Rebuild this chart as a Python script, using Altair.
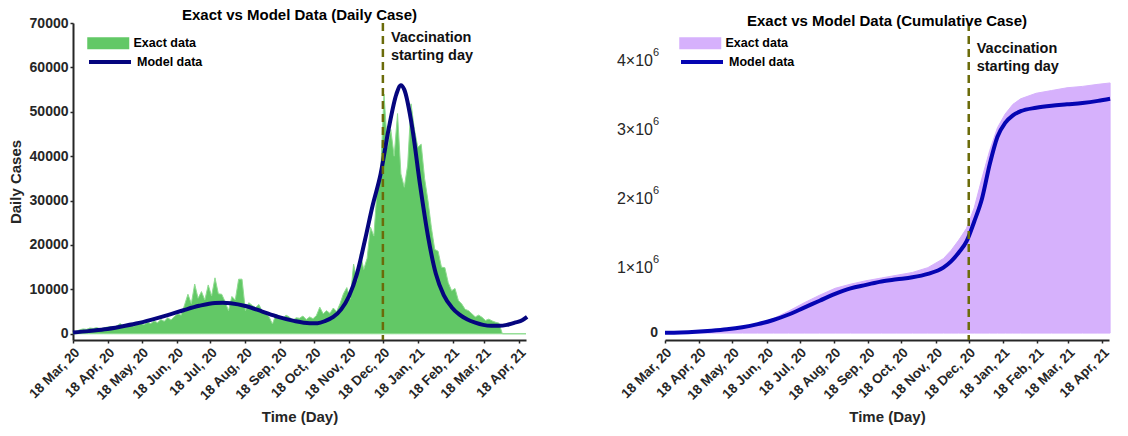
import altair as alt
import pandas as pd

FONT = "Liberation Sans"
START = pd.Timestamp("2020-03-18")

tick_dates = ["2020-03-18", "2020-04-18", "2020-05-18", "2020-06-18", "2020-07-18",
              "2020-08-18", "2020-09-18", "2020-10-18", "2020-11-18", "2020-12-18",
              "2021-01-18", "2021-02-18", "2021-03-18", "2021-04-18"]
x_domain = ["2020-03-18", "2021-04-24"]
vacc_date = ["2020-12-18"]
legend_exact = ["Exact data"]
legend_model = ["Model data"]
vacc_label = ["Vaccination\nstarting day"]

# right panel y tick labels (mantissa x 10^6)
cum_tick_values = [1000000, 2000000, 3000000, 4000000]
cum_tick_mantissa = ["1×10", "2×10", "3×10", "4×10"]
cum_tick_exponent = ["6", "6", "6", "6"]
cum_zero_label = ["0"]

# Daily exact data (every 3 days from 18 Mar 2020)
daily_exact_days = list(range(0, 382, 3)) + [402]
daily_exact_vals = [
    300, 600, 900, 1100, 1000, 1300, 1200, 1400, 1100, 1300, 1500,
    1600, 1400, 1800, 2300, 1500, 1900, 2200, 1700, 2100, 2400,
    2000, 2600, 2300, 2900, 2500, 3200, 2800, 3600, 3100, 3900,
    4500, 4200, 6500, 8900, 6800, 11200, 8000, 9500, 7600, 11000,
    8500, 12600, 9000, 8900, 7200, 5200, 8400, 7600, 12300, 12300,
    5200, 7000, 6400, 5900, 6600, 5000, 4500, 3800, 2200, 4300,
    4000, 3300, 4200, 3800, 3000, 3600, 3500, 4000, 3200, 3800,
    3400, 4100, 6000, 4500, 5200, 4600, 5800, 5000, 6800, 9000,
    10400, 7800, 15700, 12000, 18000, 14500, 17000, 24000, 22000, 33000,
    36000, 54000, 42000, 46000, 40000, 49600, 36000, 33000, 38000, 51800,
    46000, 42000, 42700, 35000, 30000, 24000, 19000, 18600, 15000, 14900,
    11500, 9700, 10200, 7500, 6700, 5500, 5200, 4500, 3800, 4200,
    3700, 3000, 3300, 2900, 2600, 2400, 0,
    0,
]

# Daily model curve
daily_model_days = [0, 14, 28, 42, 56, 70, 84, 98, 112, 126, 133, 140, 154, 168, 182, 196,
                    210, 217, 224, 231, 238, 245, 252, 259, 266, 273, 280, 287, 291, 294,
                    301, 308, 315, 322, 329, 336, 343, 350, 357, 364, 371, 378, 385, 392,
                    399, 403]
daily_model_vals = [300, 600, 1000, 1600, 2300, 3200, 4200, 5300, 6300, 6950, 7000, 6900,
                    6200, 5000, 3800, 2900, 2400, 2400, 2900, 3800, 5500, 8500, 13500, 21000,
                    29000, 36000, 46000, 54000, 56000, 55000, 46500, 33500, 22000, 13500,
                    8700, 6000, 4300, 3200, 2500, 2000, 1800, 1800, 2000, 2500, 3100, 3800]

# Cumulative exact and model
cum_days = [0, 14, 28, 42, 56, 70, 84, 98, 112, 126, 140, 154, 168, 182, 196, 210, 224,
            238, 252, 259, 266, 273, 280, 287, 294, 301, 308, 315, 322, 336, 350, 364,
            378, 392, 403]
cum_exact_vals = [5000, 15000, 28000, 40000, 55000, 80000, 130000, 210000, 320000, 440000,
                  550000, 650000, 710000, 760000, 800000, 840000, 880000, 950000, 1080000,
                  1200000, 1350000, 1520000, 1820000, 2250000, 2650000, 2980000, 3180000,
                  3320000, 3400000, 3480000, 3520000, 3560000, 3580000, 3610000, 3630000]
cum_model_vals = [5000, 10000, 20000, 35000, 55000, 85000, 130000, 190000, 270000, 370000,
                  470000, 570000, 650000, 700000, 750000, 780000, 810000, 860000, 950000,
                  1040000, 1170000, 1330000, 1620000, 1950000, 2450000, 2850000, 3050000,
                  3160000, 3220000, 3270000, 3300000, 3320000, 3340000, 3370000, 3400000]


def to_dt(s):
    t = pd.Timestamp(s)
    return alt.DateTime(year=t.year, month=t.month, date=t.day)


def frame(days, vals, name, key):
    return pd.DataFrame({
        "date": START + pd.to_timedelta(days, unit="D"),
        "value": vals,
        key: name,
    })


GREEN = "#62c866"
GREEN_EDGE = "#8fdc90"
NAVY = "#05057e"
PURPLE = "#d6b1fc"
BLUE = "#0505b2"
OLIVE = "#6b6b0a"
DARK = "#262626"
RECT = "M-3.5,-1L3.5,-1L3.5,1L-3.5,1Z"
LINE = "M-3.5,0L3.5,0"

x_enc = alt.X(
    "date:T",
    scale=alt.Scale(domain=[to_dt(x_domain[0]), to_dt(x_domain[1])], nice=False),
    axis=alt.Axis(values=[to_dt(d) for d in tick_dates], format="%d %b, %y",
                  labelAngle=-45, labelAlign="right", labelBaseline="bottom",
                  labelOverlap=False, labelOffset=9, labelPadding=12, labelBound=False,
                  labelFontSize=13.5, title="Time (Day)", titlePadding=7),
)


def panel(exact_df, model_df, fill_col, line_col, y_domain, y_values, y_title,
          cumulative, text_y, title, width):
    if cumulative:
        y_axis = alt.Axis(values=y_values, title=y_title, labels=False, titlePadding=59)
    else:
        y_axis = alt.Axis(values=y_values, title=y_title, format="d", titlePadding=6)
    y_scale = alt.Scale(domain=y_domain, nice=False)
    y_enc = alt.Y("value:Q", scale=y_scale, axis=y_axis)

    leg_common = dict(title=None, orient="none", padding=0, labelFont=FONT,
                      labelFontSize=12.5, labelFontWeight="bold", labelColor="#000",
                      labelOffset=19, symbolSize=144, legendX=29)
    area = alt.Chart(exact_df).mark_area(
        interpolate="linear", opacity=1,
        stroke=fill_col if cumulative else GREEN_EDGE, strokeWidth=1,
    ).encode(
        x=x_enc, y=y_enc,
        fill=alt.Fill("ex:N", scale=alt.Scale(domain=legend_exact, range=[fill_col]),
                      legend=alt.Legend(symbolType=RECT, symbolStrokeWidth=0,
                                        symbolOpacity=1, legendY=14, **leg_common)),
    )
    line = alt.Chart(model_df).mark_line(
        interpolate="monotone", strokeWidth=4,
    ).encode(
        x=x_enc, y=y_enc,
        stroke=alt.Stroke("mo:N", scale=alt.Scale(domain=legend_model, range=[line_col]),
                          legend=alt.Legend(symbolType=LINE, symbolStrokeWidth=4,
                                            legendY=31, **leg_common)),
    )
    vdf = pd.DataFrame({"date": pd.to_datetime(vacc_date), "value": [text_y],
                        "label": vacc_label})
    rule = alt.Chart(vdf).mark_rule(
        strokeDash=[8, 5], strokeWidth=2.5, color=OLIVE
    ).encode(x=x_enc)
    text = alt.Chart(vdf).mark_text(
        align="left", baseline="top", dx=8, font=FONT, fontSize=14.5,
        fontWeight="bold", lineBreak="\n", lineHeight=18, color="#111"
    ).encode(x=x_enc, y=y_enc, text="label:N")
    layers = [area, line, rule, text]
    if cumulative:
        x0 = pd.to_datetime([x_domain[0]])[0]
        tdf = pd.DataFrame({"date": [x0] * len(cum_tick_values), "value": cum_tick_values,
                            "mant": cum_tick_mantissa, "expo": cum_tick_exponent})
        zdf = pd.DataFrame({"date": [x0], "value": [0], "mant": cum_zero_label})
        mant = alt.Chart(tdf).mark_text(
            align="right", baseline="middle", dx=-12, dy=4, font=FONT, fontSize=16,
            color=DARK
        ).encode(x=x_enc, y=alt.Y("value:Q", scale=y_scale, axis=None), text="mant:N")
        expo = alt.Chart(tdf).mark_text(
            align="left", baseline="middle", dx=-12, dy=-4, font=FONT, fontSize=11,
            color=DARK
        ).encode(x=x_enc, y=alt.Y("value:Q", scale=y_scale, axis=None), text="expo:N")
        zero = alt.Chart(zdf).mark_text(
            align="right", baseline="middle", dx=-7, font=FONT, fontSize=14,
            fontWeight="bold", color=DARK
        ).encode(x=x_enc, y=alt.Y("value:Q", scale=y_scale, axis=None), text="mant:N")
        layers += [mant, expo, zero]
    return alt.layer(*layers).properties(
        width=width, height=317,
        title=alt.TitleParams(title, font=FONT, fontSize=15, fontWeight="bold",
                              color="#000", offset=-7),
    )


left = panel(frame(daily_exact_days, daily_exact_vals, "Exact data", "ex"),
             frame(daily_model_days, daily_model_vals, "Model data", "mo"),
             GREEN, NAVY, [-1400, 70000], list(range(0, 70001, 10000)), "Daily Cases",
             False, 68200, "Exact vs Model Data (Daily Case)", 453)

right = panel(frame(cum_days, cum_exact_vals, "Exact data", "ex"),
              frame(cum_days, cum_model_vals, "Model data", "mo"),
              PURPLE, BLUE, [-100000, 4500000], [0, 1000000, 2000000, 3000000, 4000000],
              "Cumulative Cases", True, 4220000,
              "Exact vs Model Data (Cumulative Case)", 444)

chart = alt.hconcat(left, right, spacing=80).resolve_scale(
    fill="independent", stroke="independent"
).properties(
    padding={"left": 0, "top": 0, "right": 0, "bottom": 0}
).configure_view(stroke=None).configure_axis(
    grid=False, domainColor=DARK, domainWidth=2, tickColor=DARK, tickWidth=1.5,
    tickSize=3, labelFont=FONT, labelFontSize=14, labelFontWeight="bold",
    labelColor=DARK, labelPadding=2, titleFont=FONT, titleFontSize=15,
    titleFontWeight="bold", titleColor=DARK,
)

chart.save("out.html", embed_options={"renderer": "svg", "actions": False})
